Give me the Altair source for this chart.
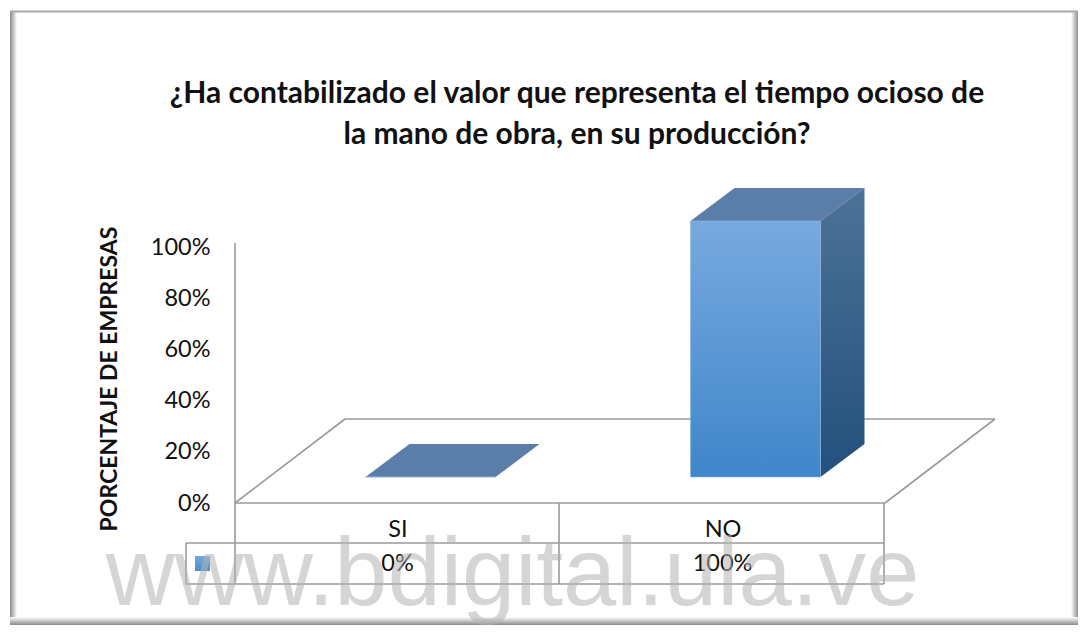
import altair as alt
import pandas as pd

categories = ["SI", "NO"]
values = [0, 100]
title_lines = ["¿Ha contabilizado el valor que representa el tiempo ocioso de",
               "la mano de obra, en su producción?"]
y_title = "PORCENTAJE DE EMPRESAS"
y_ticks = [0, 20, 40, 60, 80, 100]
watermark = "www.bdigital.ula.ve"

W, H = 1070, 617
M = 8                      # page margin: picture coords minus M = chart coords
FONT = "Lato"
LINE = "#9a9a9a"

# 3-D geometry of the scene, in picture pixels
AX_L, AX_R, FLOOR_Y, AX_TOP = 235, 885, 503, 247
DX, DY = 33, 26            # front of the bars sits this far into the floor
DEPTH_X, DEPTH_Y = 44, 33  # depth of a bar
BAND = 130
UNIT = (FLOOR_Y - AX_TOP) / 100

one = pd.DataFrame({"a": [0]})
df = pd.DataFrame({"cat": categories, "val": values})
df["label"] = [f"{v}%" for v in values]


def rect(x, x2, y, y2, fill, **kw):
    return alt.Chart(one).mark_rect(fill=fill, **kw).encode(
        x=alt.value(x - M), x2=alt.value(x2 - M),
        y=alt.value(y - M), y2=alt.value(y2 - M))


def grad(c0, c1, horiz=False):
    return {
        "gradient": "linear",
        "stops": [{"color": c0, "offset": 0}, {"color": c1, "offset": 1}],
        "x1": 0, "y1": 0, "x2": 1 if horiz else 0, "y2": 0 if horiz else 1,
    }


# ---- frame with its soft inner shadow (kept inside the drawable page)
frame = [
    rect(10, 17, 11, 625, grad("#8a8a8a", "#ffffff", horiz=True)),
    rect(1071, 1078, 11, 625, grad("#ffffff", "#8f8f8f", horiz=True)),
    rect(10, 1078, 617, 625, grad("#ffffff", "#8a8a8a")),
    rect(10, 1078, 10.5, 12.5, "#a8a8a8"),
]

# ---- floor and table lines
segs = pd.DataFrame(
    [
        (235, 503, 345, 419), (345, 419, 995, 419), (995, 419, 885, 503),
        (235, 503, 885, 503), (235, 243, 235, 584), (559, 503, 559, 584),
        (884, 503, 884, 584), (186, 543, 884, 543), (186, 584, 884, 584),
        (186, 543, 186, 584),
    ],
    columns=["x", "y", "x2", "y2"],
) - M
lines = alt.Chart(segs).mark_rule(color=LINE, strokeWidth=1.6).encode(
    x=alt.X("x:Q", scale=None), x2="x2:Q",
    y=alt.Y("y:Q", scale=None), y2="y2:Q")

# ---- value axis and category axis with the data-table row
yaxis = alt.Chart(df).mark_point(opacity=0).encode(
    y=alt.Y("val:Q", scale=alt.Scale(domain=[0, 100], range=[FLOOR_Y - M, AX_TOP - M]),
            axis=alt.Axis(values=y_ticks, labelExpr="datum.value + '%'", title=None,
                          domain=False, ticks=False, grid=False, offset=-(AX_L - M),
                          labelPadding=25, labelFont=FONT, labelFontSize=23.5,
                          labelColor="#111111")),
    x=alt.value(AX_L - M))

xband = alt.Scale(domain=categories, range=[AX_L - M, AX_R - M])
xaxis = alt.Chart(df).mark_text(font=FONT, fontSize=23.5, color="#111111").encode(
    x=alt.X("cat:N", scale=xband, sort=None,
            axis=alt.Axis(title=None, domain=False, ticks=False, grid=False, labelAngle=0,
                          offset=-(H + M - FLOOR_Y), labelPadding=14, labelFont=FONT,
                          labelFontSize=23.5, labelColor="#111111")),
    y=alt.value(564 - M),
    text="label:N")

# ---- bars: front faces through a band scale and a linear scale
front_scale_x = alt.Scale(domain=categories, range=[AX_L + DX - M, AX_R + DX - M],
                          paddingInner=0.6, paddingOuter=0.3)
base = FLOOR_Y - DY
front_scale_y = alt.Scale(domain=[0, 100], range=[base - M, base - 100 * UNIT - M])
bars = alt.Chart(df).mark_bar(
    color=grad("#78a9df", "#3f86ca"), stroke="#8fb6e0", strokeWidth=0.6
).encode(
    x=alt.X("cat:N", scale=front_scale_x, axis=None, sort=None),
    y=alt.Y("val:Q", scale=front_scale_y, axis=None),
)


def left_of(i):
    step = (AX_R - AX_L) / 2
    return AX_L + DX + 0.3 * step + i * step


top_rows, side_rows = [], []
for i, (c, v) in enumerate(zip(categories, values)):
    x0 = left_of(i) - M
    x1 = x0 + BAND
    yt = base - v * UNIT - M
    yb = base - M
    top_rows += [
        (c, x0, yt, yt),
        (c, x0 + DEPTH_X, yt - DEPTH_Y, yt),
        (c, x1, yt - DEPTH_Y, yt),
        (c, x1 + DEPTH_X, yt - DEPTH_Y, yt - DEPTH_Y),
    ]
    if v > 0:
        side_rows += [(c, x1, yt, yb), (c, x1 + DEPTH_X, yt - DEPTH_Y, yb - DEPTH_Y)]

top_df = pd.DataFrame(top_rows, columns=["cat", "x", "y", "y2"])
side_df = pd.DataFrame(side_rows, columns=["cat", "x", "y", "y2"])


def face(d, color):
    return alt.Chart(d).mark_area(color=color, interpolate="linear").encode(
        x=alt.X("x:Q", scale=None),
        y=alt.Y("y:Q", scale=None), y2="y2:Q",
        detail="cat:N")


tops = face(top_df, "#5a7ea8")
sides = face(side_df, grad("#4d7297", "#23507c"))

key = rect(195, 210, 556, 571, grad("#78a9df", "#4a8ccc"))

# ---- texts
title_df = pd.DataFrame({"t": title_lines, "py": [94 - M, 135 - M]})
title = alt.Chart(title_df).mark_text(
    font=FONT, fontSize=30, fontWeight="bold", color="#111111", baseline="middle"
).encode(x=alt.value(577 - M), y=alt.Y("py:Q", scale=None), text="t:N")

ytitle = alt.Chart(pd.DataFrame({"t": [y_title]})).mark_text(
    font=FONT, fontSize=23, fontWeight="bold", color="#111111", angle=270, baseline="middle"
).encode(x=alt.value(110 - M), y=alt.value(379 - M), text="t:N")

mark = alt.Chart(pd.DataFrame({"t": [watermark]})).mark_text(
    font="Liberation Sans", fontSize=95.7, color="#b4b4b4", opacity=0.55,
    align="center", baseline="alphabetic"
).encode(x=alt.value(512.5 - M), y=alt.value(605 - M), text="t:N")

chart = alt.layer(
    *frame, lines, yaxis, xaxis, tops, sides, bars, key, title, ytitle, mark
).resolve_scale(x="independent", y="independent").properties(
    width=W, height=H, background="white", padding=0,
    autosize=alt.AutoSizeParams(type="none"),
).configure_view(stroke=None)

chart.save("out.html", embed_options={"renderer": "svg", "actions": False})
